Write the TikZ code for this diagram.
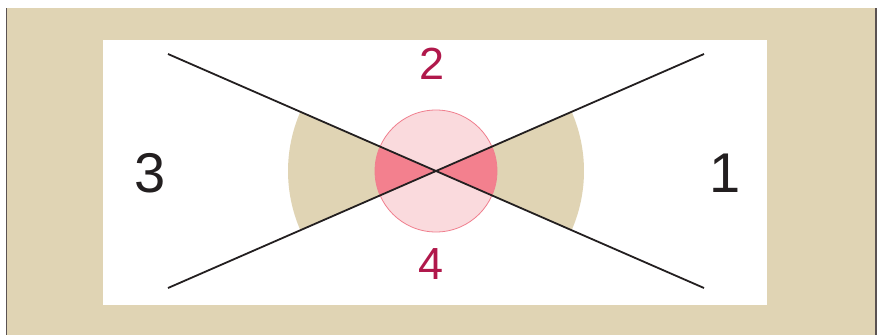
\documentclass[tikz,border=0pt]{standalone}
\usepackage{fontspec}
\setmainfont{Liberation Sans}
\definecolor{beige}{HTML}{E0D4B4}
\definecolor{lpink}{HTML}{FADADD}
\definecolor{dpink}{HTML}{F3808E}
\definecolor{pinkline}{HTML}{F07F8E}
\definecolor{crimson}{HTML}{B0184B}
\definecolor{ink}{HTML}{231F20}
\definecolor{frame}{HTML}{5A5252}
\tikzset{
  xline/.style={draw=ink, line width=1.8pt},
  bignum/.style={anchor=base, inner sep=0pt, text=ink, font=\fontsize{56}{56}\selectfont},
  rednum/.style={anchor=base, inner sep=0pt, text=crimson, font=\fontsize{45}{45}\selectfont},
}
\begin{document}
\begin{tikzpicture}[x=1pt,y=-1pt]
\useasboundingbox (0,0) rectangle (877,335);
\fill[white] (0,0) rectangle (877,335);
\fill[beige] (6,8) rectangle (876,335);
\draw[frame, line width=1.5pt] (6.5,8) -- (6.5,335);
\draw[frame, line width=1.5pt] (876,8) -- (876,335);
\fill[white] (103,40) rectangle (767,305);
\coordinate (c) at (436,171);
\coordinate (tl) at (168,54);
\coordinate (br) at (704,288);
\coordinate (bl) at (168,288);
\coordinate (tr) at (704,54);
% wedges
\def\wedges{(c) -- ++(23.58:148) arc[start angle=23.58, end angle=-23.58, radius=148] -- cycle
  (c) -- ++(156.42:148) arc[start angle=156.42, end angle=203.58, radius=148] -- cycle}
\fill[beige] \wedges;
\fill[lpink] (c) circle[radius=61];
\begin{scope}
  \clip (c) circle[radius=61];
  \fill[dpink] \wedges;
\end{scope}
\draw[pinkline, line width=0.8pt] (c) circle[radius=61];
\draw[xline] (tl) -- (br);
\draw[xline] (bl) -- (tr);
\node[rednum] (n2) at (432,79) {2};
\node[rednum] (n4) at (431.5,279) {4};
\node[bignum] (n3) at (150,192) {3};
\node[bignum] (n1) at (725,192) {1};
\end{tikzpicture}
\end{document}
